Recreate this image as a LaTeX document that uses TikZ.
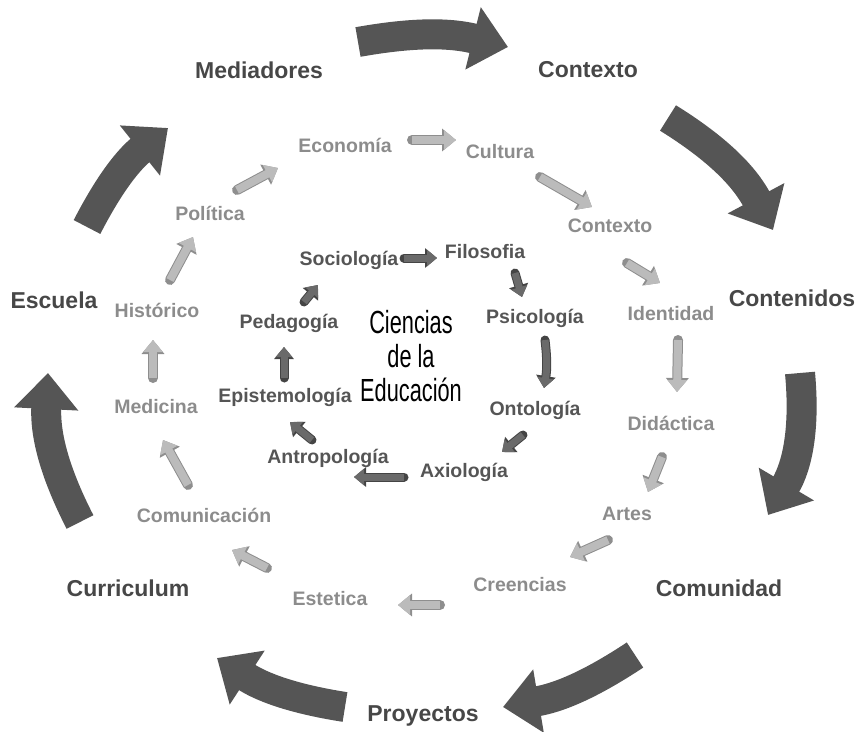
\documentclass[tikz,border=0pt]{standalone}
\usepackage{fontspec}
\setmainfont{Liberation Sans}
\newfontfamily\narrowfont[FakeStretch=0.68]{Liberation Sans}
\usetikzlibrary{arrows.meta}
\definecolor{outgray}{HTML}{474747}
\definecolor{bigarrow}{HTML}{555555}
\definecolor{midtxt}{HTML}{8C8C8C}
\definecolor{midarrow}{HTML}{BBBBBB}
\definecolor{midedge}{HTML}{8E8E8E}
\definecolor{intxt}{HTML}{555555}
\definecolor{inarrow}{HTML}{6A6A6A}
\definecolor{inedge}{HTML}{444444}

\begin{document}
\begin{tikzpicture}[line cap=round,line join=round,x=1pt,y=-1pt,
	outlbl/.style={text=outgray,font=\fontsize{23}{26}\selectfont\bfseries,inner sep=2pt},
	midlbl/.style={text=midtxt,font=\fontsize{19.5}{22}\selectfont\bfseries,inner sep=2pt},
	inlbl/.style={text=intxt,font=\fontsize{19.5}{22}\selectfont\bfseries,inner sep=2pt},
	bigarr/.style={line cap=butt,line width=30pt,color=bigarrow,-{Triangle[width=62pt,length=36pt]}},
	midarr/.style={line cap=butt,line width=8pt,color=midarrow,-{Triangle[width=19pt,length=12pt]},
		preaction={draw=midedge,line width=10pt,-{Triangle[width=22pt,length=14pt]}}},
	inarr/.style={line cap=butt,line width=7pt,color=inarrow,-{Triangle[width=16pt,length=10pt]},
		preaction={draw=inedge,line width=9pt,-{Triangle[width=19pt,length=12pt]}}}]
		\useasboundingbox (0,0) rectangle (859,731);
		% outer ring
		\node[outlbl] (mediad) at (259,70) {Mediadores};
		\node[outlbl] (ctxo) at (588,70) {Contexto};
		\node[outlbl] (cont) at (792,298) {Contenidos};
		\node[outlbl] (comu) at (719,588) {Comunidad};
		\node[outlbl] (proy) at (423,716) {Proyectos};
		\node[outlbl] (curr) at (128,588) {Curriculum};
		\node[outlbl] (esc) at (54,300) {Escuela};
		% middle ring
		\node[midlbl] (eco) at (345,145) {Economía};
		\node[midlbl] (cul) at (500,152) {Cultura};
		\node[midlbl] (ctx) at (610,226) {Contexto};
		\node[midlbl] (iden) at (671,314) {Identidad};
		\node[midlbl] (did) at (671,423) {Didáctica};
		\node[midlbl] (art) at (627,514) {Artes};
		\node[midlbl] (cre) at (520,585) {Creencias};
		\node[midlbl] (est) at (330,599) {Estetica};
		\node[midlbl] (com) at (204,515) {Comunicación};
		\node[midlbl] (medic) at (156,407) {Medicina};
		\node[midlbl] (hist) at (157,310) {Histórico};
		\node[midlbl] (pol) at (210,213) {Política};
		% inner ring
		\node[inlbl] (soc) at (349,260) {Sociología};
		\node[inlbl] (fil) at (485,252) {Filosofia};
		\node[inlbl] (psi) at (535,318) {Psicología};
		\node[inlbl] (ont) at (535,410) {Ontología};
		\node[inlbl] (axi) at (464,472) {Axiología};
		\node[inlbl] (ant) at (328,458) {Antropología};
		\node[inlbl] (epi) at (285,397) {Epistemología};
		\node[inlbl] (ped) at (289,323) {Pedagogía};
		\node[align=center,font=\narrowfont\fontsize{32}{34}\selectfont] (cde) at (411,356) {Ciencias\\de la\\Educación};
		% big arrows
		\draw[bigarr] ([shift={(99,-28)}]mediad.center) to[bend left=12] ([shift={(-80,-23)}]ctxo.center);
		\draw[bigarr] ([shift={(80,48)}]ctxo.center) to[bend left=15] ([shift={(-19,-68)}]cont.center);
		\draw[bigarr] ([shift={(8,75)}]cont.center) to[bend left=18] ([shift={(49,-73)}]comu.center);
		\draw[bigarr] ([shift={(-84,67)}]comu.center) to[bend left=12] ([shift={(80,-9)}]proy.center);
		\draw[bigarr] ([shift={(-78,-9)}]proy.center) to[bend left=12] ([shift={(89,70)}]curr.center);
		\draw[bigarr] ([shift={(-48,-66)}]curr.center) to[bend left=15] ([shift={(-6,73)}]esc.center);
		\draw[bigarr] ([shift={(33,-73)}]esc.center) to[bend left=12] ([shift={(-91,58)}]mediad.center);
		% middle arrows
		\draw[midarr] ([shift={(13,-30)}]hist.center) -- ([shift={(-17,24)}]pol.center);
		\draw[midarr] ([shift={(27,-23)}]pol.center) -- ([shift={(-67,23)}]eco.center);
		\draw[midarr] ([shift={(67,-5)}]eco.center) -- ([shift={(-44,-12)}]cul.center);
		\draw[midarr] ([shift={(40,25)}]cul.center) -- ([shift={(-18,-19)}]ctx.center);
		\draw[midarr] ([shift={(17,37)}]ctx.center) -- ([shift={(-11,-31)}]iden.center);
		\draw[midarr] ([shift={(7,26)}]iden.center) -- ([shift={(6,-31)}]did.center);
		\draw[midarr] ([shift={(-9,34)}]did.center) -- ([shift={(21,-22)}]art.center);
		\draw[midarr] ([shift={(-19,26)}]art.center) -- ([shift={(50,-28)}]cre.center);
		\draw[midarr] ([shift={(-80,20)}]cre.center) -- ([shift={(68,6)}]est.center);
		\draw[midarr] ([shift={(-63,-31)}]est.center) -- ([shift={(28,35)}]com.center);
		\draw[midarr] ([shift={(-16,-30)}]com.center) -- ([shift={(7,33)}]medic.center);
		\draw[midarr] ([shift={(-3,-29)}]medic.center) -- ([shift={(-4,30)}]hist.center);
		% inner arrows
		\draw[inarr] ([shift={(55,-2)}]soc.center) -- ([shift={(-48,6)}]fil.center);
		\draw[inarr] ([shift={(30,21)}]fil.center) -- ([shift={(-13,-21)}]psi.center);
		\draw[inarr] ([shift={(10,22)}]psi.center) to[bend left=8] ([shift={(9,-22)}]ont.center);
		\draw[inarr] ([shift={(-12,25)}]ont.center) -- ([shift={(38,-20)}]axi.center);
		\draw[inarr] ([shift={(-60,5)}]axi.center) -- ([shift={(26,19)}]ant.center);
		\draw[inarr] ([shift={(-16,-18)}]ant.center) -- ([shift={(5,25)}]epi.center);
		\draw[inarr] ([shift={(-1,-19)}]epi.center) -- ([shift={(-5,24)}]ped.center);
		\draw[inarr] ([shift={(15,-21)}]ped.center) -- ([shift={(-31,25)}]soc.center);
	\end{tikzpicture}
\end{document}
